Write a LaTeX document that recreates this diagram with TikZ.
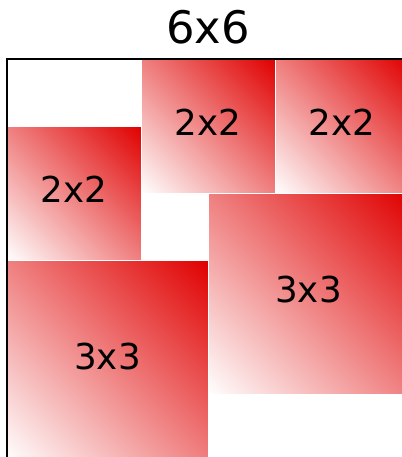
\documentclass[tikz,border=0pt]{standalone}
\usepackage{fontspec}
\setmainfont{DejaVu Sans}
\usetikzlibrary{shadings}
\definecolor{tilered}{RGB}{224,0,0}
\begin{document}
\begin{tikzpicture}[x=1.34cm, y=1.34cm,
    tile/.style={shade, minimum size=#1*1.34cm, inner sep=0pt, text depth=0.16cm,
      draw=white, line width=0.5pt,
      lower left=white, upper right=tilered,
      upper left=tilered!50!white, lower right=tilered!50!white,
      font=\fontsize{20.3}{24}\selectfont}]
    \useasboundingbox (-0.1045,0.0597) rectangle (5.8955,6.8806);
    \clip (-0.1045,0.0597) rectangle (5.8955,6.8806);

    % title
    \node[font=\fontsize{25.5}{30}\selectfont] (title) at (3,6.47) {6x6};

    % tiles
    \node[tile=2] (tileA) at (1,4) {2x2};
    \node[tile=2] (tileB) at (3,5) {2x2};
    \node[tile=2] (tileC) at (5,5) {2x2};
    \node[tile=3] (tileD) at (4.5,2.5) {3x3};
    \node[tile=3] (tileE) at (1.5,1.5) {3x3};

    % board
    \draw[line width=1.4pt] (0,0) rectangle (6,6);
\end{tikzpicture}
\end{document}
